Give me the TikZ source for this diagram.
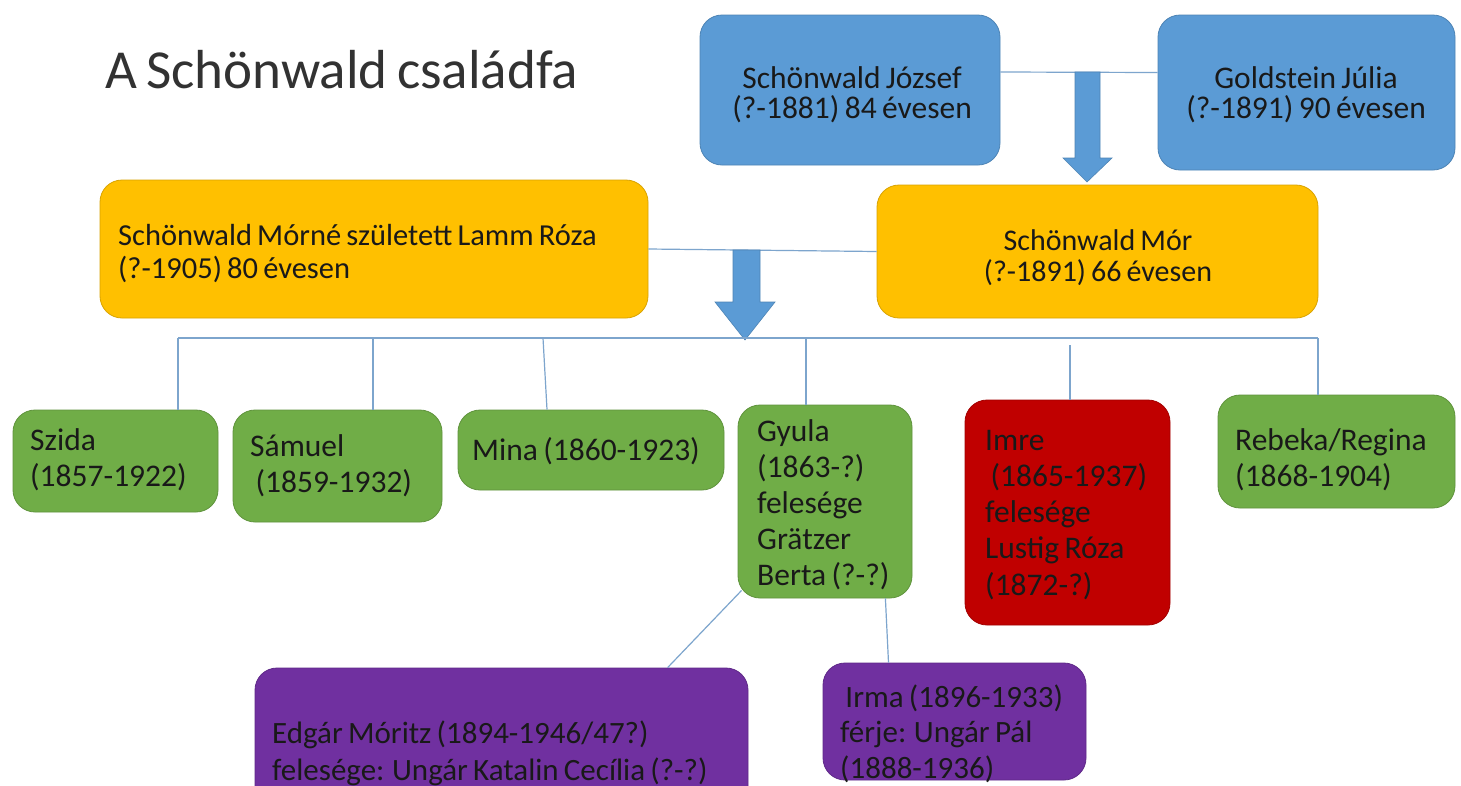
\documentclass[tikz,border=0pt]{standalone}
\usepackage{fontspec}
\setmainfont[WordSpace=0.75]{Carlito}
\definecolor{cblue}{HTML}{5B9BD5}
\definecolor{corange}{HTML}{FFC000}
\definecolor{cgreen}{HTML}{70AD47}
\definecolor{cred}{HTML}{C00000}
\definecolor{cpurple}{HTML}{7030A0}
\definecolor{cline}{RGB}{125,165,205}
\definecolor{ctitle}{RGB}{50,50,50}
\tikzset{
  famb/.style={rounded corners=22pt, fill=#1, draw=#1!85!black, line width=0.8pt, inner sep=0pt},
  lt/.style={anchor=base west, inner sep=0pt, align=left, text=black!90},
  ct/.style={anchor=base, inner sep=0pt, align=center, text=black!90},
  greenfont/.style={font=\fontsize{31.5}{36.5}\selectfont},
  topfont/.style={font=\fontsize{31.5}{30}\selectfont},
  morfont/.style={font=\fontsize{30}{31}\selectfont},
  conn/.style={draw=cline, line width=1.2pt},
  blockarrow/.style={fill=cblue, draw=cblue!85!black, line width=0.6pt}
}
\begin{document}
\begin{tikzpicture}[x=1pt,y=-1pt]
\useasboundingbox[fill=white] (0,0) rectangle (1461,785);
\node[anchor=base west, font=\fontsize{55}{60}\selectfont, text=ctitle, inner sep=0] (title) at (105,88) {A Schönwald családfa};

% boxes
\node[famb=cblue, minimum width=300, minimum height=150] (jozsef) at (850,90) {};
\node[famb=cblue, minimum width=297, minimum height=155] (julia) at (1306.5,92.5) {};
\node[famb=corange, minimum width=548, minimum height=138] (roza) at (374,249) {};
\node[famb=corange, minimum width=441, minimum height=133] (mor) at (1097.5,251.5) {};
\node[famb=cgreen, minimum width=205, minimum height=102] (szida) at (115.5,461) {};
\node[famb=cgreen, minimum width=209, minimum height=112] (samuel) at (337.5,466) {};
\node[famb=cgreen, minimum width=266, minimum height=80] (mina) at (591,450) {};
\node[famb=cgreen, minimum width=174, minimum height=193] (gyula) at (825,501.5) {};
\node[famb=cred, minimum width=205, minimum height=225] (imre) at (1067.5,512.5) {};
\node[famb=cgreen, minimum width=237, minimum height=113] (rebeka) at (1336.5,451.5) {};
\node[famb=cpurple, minimum width=493, minimum height=167] (edgar) at (501.5,751.5) {};
\node[famb=cpurple, minimum width=263, minimum height=117] (irma) at (954.5,721.5) {};

% texts (anchored at the baseline of the last line)
\node[ct, topfont] (jozsef-t) at (852,118) {Schönwald József\\(?-1881) 84 évesen};
\node[ct, topfont] (julia-t) at (1306,118) {Goldstein Júlia\\(?-1891) 90 évesen};
\node[lt, font=\fontsize{30.5}{33}\selectfont] (roza-t) at (118,278) {Schönwald Mórné született Lamm Róza\\(?-1905) 80 évesen};
\node[ct, morfont] (mor-t) at (1098,281) {Schönwald Mór\\(?-1891) 66 évesen};
\node[lt, greenfont] (szida-t) at (30,486.5) {Szida\\(1857-1922)};
\node[lt, greenfont] (samuel-t) at (250,492.5) {Sámuel\\\ (1859-1932)};
\node[lt, greenfont] (mina-t) at (472,460) {Mina (1860-1923)};
\node[lt, font=\fontsize{31.5}{35.8}\selectfont] (gyula-t) at (757,585) {Gyula\\(1863-?)\\felesége\\Grätzer\\Berta (?-?)};
\node[lt, font=\fontsize{31.5}{36.2}\selectfont] (imre-t) at (985,595) {Imre\\\ (1865-1937)\\felesége\\Lustig Róza\\(1872-?)};
\node[lt, greenfont] (rebeka-t) at (1235,486.5) {Rebeka/Regina\\(1868-1904)};
\node[lt, font=\fontsize{31}{37}\selectfont] (edgar-t) at (272,780) {Edgár Móritz (1894-1946/47?)\\felesége: Ungár Katalin Cecília (?-?)};
\node[lt, font=\fontsize{31}{35.5}\selectfont] (irma-t) at (840,778) {\ Irma (1896-1933)\\férje: Ungár Pál\\(1888-1936)};

% marriage lines
\draw[conn] ([yshift=18pt]jozsef.east) -- ([yshift=20pt]julia.west);
\draw[conn] (roza.east) -- (mor.west);

% block arrows
\fill[blockarrow] (1075,72) -- (1100,72) -- (1100,158) -- (1112,158) -- (1087,182) -- (1063,158) -- (1075,158) -- cycle;
\fill[blockarrow] (733,250) -- (760,250) -- (760,302) -- (775,302) -- (745,340) -- (715,302) -- (733,302) -- cycle;

% children bus
\coordinate (b1) at (178,338);
\coordinate (b2) at (373,338);
\coordinate (b3) at (543,338);
\coordinate (b4) at (806,338);
\coordinate (b5) at (1070,345);
\coordinate (b6) at (1318,338);
\draw[conn] (b1) -- (b6);
\draw[conn] (b1) -- (b1 |- szida.north);
\draw[conn] (b2) -- (b2 |- samuel.north);
\draw[conn] (b3) -- ([xshift=-44pt]mina.north);
\draw[conn] (b4) -- (b4 |- gyula.north);
\draw[conn] (b5) -- (b5 |- imre.north);
\draw[conn] (b6) -- (b6 |- rebeka.north);

% grandchildren
\draw[conn] ([xshift=4pt,yshift=8pt]gyula.south west) -- ([xshift=413pt]edgar.north west);
\draw[conn] ([xshift=-27pt]gyula.south east) -- ([xshift=-66pt]irma.north);
\end{tikzpicture}
\end{document}
